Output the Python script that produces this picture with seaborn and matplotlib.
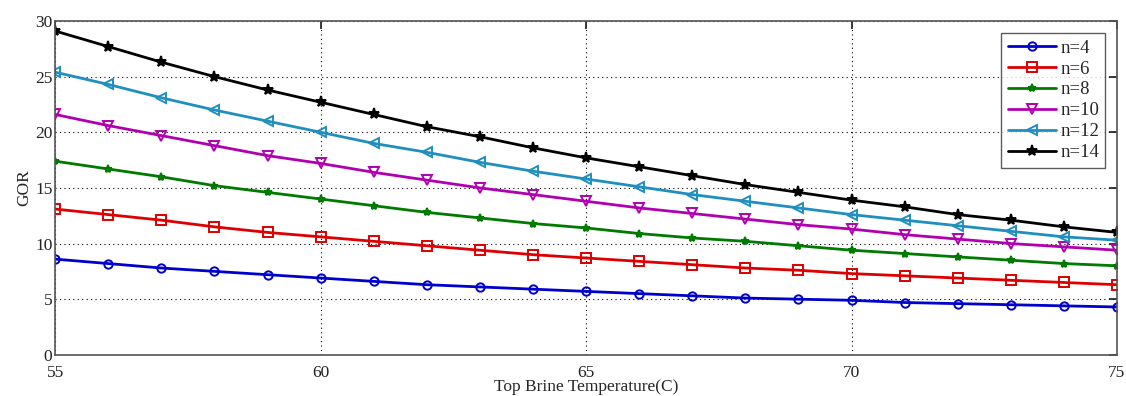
import numpy as np
import pandas as pd
import matplotlib
matplotlib.use("Agg")
import matplotlib.pyplot as plt
import seaborn as sns

temps = list(range(55, 76))
labels = ["n=4", "n=6", "n=8", "n=10", "n=12", "n=14"]
gor_n4 = [8.6, 8.2, 7.8, 7.5, 7.2, 6.9, 6.6, 6.3, 6.1, 5.9, 5.7, 5.5, 5.3, 5.1, 5.0, 4.9, 4.7, 4.6, 4.5, 4.4, 4.3]
gor_n6 = [13.1, 12.6, 12.1, 11.5, 11.0, 10.6, 10.2, 9.8, 9.4, 9.0, 8.7, 8.4, 8.1, 7.8, 7.6, 7.3, 7.1, 6.9, 6.7, 6.5, 6.3]
gor_n8 = [17.4, 16.7, 16.0, 15.2, 14.6, 14.0, 13.4, 12.8, 12.3, 11.8, 11.4, 10.9, 10.5, 10.2, 9.8, 9.4, 9.1, 8.8, 8.5, 8.2, 8.0]
gor_n10 = [21.6, 20.6, 19.7, 18.8, 17.9, 17.2, 16.4, 15.7, 15.0, 14.4, 13.8, 13.2, 12.7, 12.2, 11.7, 11.3, 10.8, 10.4, 10.0, 9.7, 9.4]
gor_n12 = [25.4, 24.3, 23.1, 22.0, 21.0, 20.0, 19.0, 18.2, 17.3, 16.5, 15.8, 15.1, 14.4, 13.8, 13.2, 12.6, 12.1, 11.6, 11.1, 10.6, 10.3]
gor_n14 = [29.1, 27.7, 26.3, 25.0, 23.8, 22.7, 21.6, 20.5, 19.6, 18.6, 17.7, 16.9, 16.1, 15.3, 14.6, 13.9, 13.3, 12.6, 12.1, 11.5, 11.0]
series = [gor_n4, gor_n6, gor_n8, gor_n10, gor_n12, gor_n14]

colors = ["#0000cc", "#dd0000", "#007a00", "#b000b0", "#1f8fbf", "#000000"]
markers = ["o", "s", "*", "v", "<", "*"]
msizes = [6, 6.5, 6, 7, 7, 8]
filled = [False, False, True, False, False, True]

sns.set_theme(style="white")
plt.rcParams["font.family"] = ["Liberation Serif", "DejaVu Serif"]

fig = plt.figure(figsize=(11.26, 3.96), dpi=100)
ax = fig.add_axes([0.049, 0.104, 0.943, 0.843])

for lab, vals, c, m, ms, f in zip(labels, series, colors, markers, msizes, filled):
    df = pd.DataFrame({"T": temps, "GOR": vals})
    sns.lineplot(data=df, x="T", y="GOR", ax=ax, color=c, marker=m, markersize=ms,
                 markerfacecolor=(c if f else "none"), markeredgecolor=c,
                 markeredgewidth=1.4, linewidth=2, label=lab)

ax.set_xlim(55, 75)
ax.set_ylim(0, 30)
ax.set_xticks([55, 60, 65, 70, 75])
ax.set_yticks([0, 5, 10, 15, 20, 25, 30])
ax.grid(True, color="black", linestyle=(0, (1, 3)), linewidth=0.8)
ax.tick_params(direction="in", length=6, top=True, right=True, labelsize=12.5,
               colors="#222222")
ax.tick_params(axis="x", pad=7)
ax.tick_params(axis="y", pad=2)
for s in ax.spines.values():
    s.set_color("#555555")
    s.set_linewidth(1.2)
ax.set_xlabel("Top Brine Temperature(C)", fontsize=12.5, labelpad=-1)
ax.set_ylabel("GOR", fontsize=12.5, labelpad=2)

leg = ax.legend(loc="upper right", bbox_to_anchor=(0.998, 0.992), fontsize=13.5,
                frameon=True, fancybox=False, edgecolor="#333333",
                handlelength=2.6, handletextpad=0.2, labelspacing=0.2,
                borderpad=0.35)
leg.get_frame().set_linewidth(1.0)

fig.savefig("out.png", dpi=100)
